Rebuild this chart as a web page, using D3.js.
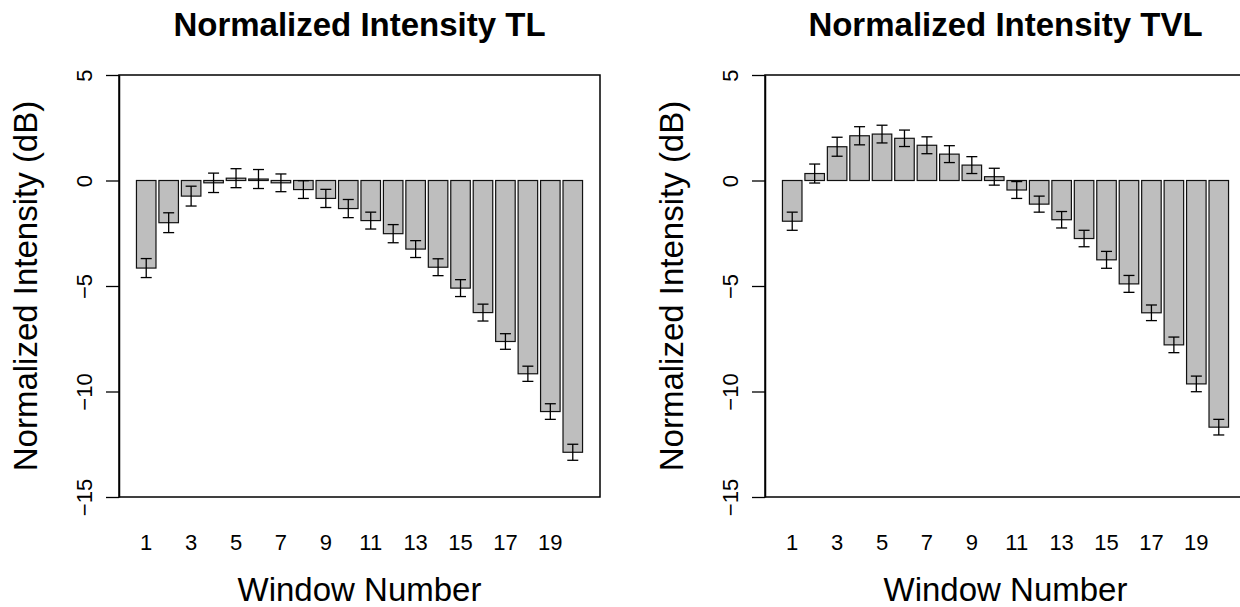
<!DOCTYPE html>
<html>
<head>
<meta charset="utf-8">
<script src="https://cdn.jsdelivr.net/npm/d3@7"></script>
<style>
  html, body { margin: 0; padding: 0; background: #ffffff; }
  svg { display: block; }
  text { font-family: "Liberation Sans", Arial, Helvetica, sans-serif; fill: #000; }
</style>
</head>
<body>
<svg id="chart" width="1240" height="607"></svg>
<script>
// Window numbers along the x axis
const windows = d3.range(1, 21);
// Tick labels shown under the bars (every other window)
const xTickLabels = [1, 3, 5, 7, 9, 11, 13, 15, 17, 19];
const yTicks = [-15, -10, -5, 0, 5];

// Mean normalized intensity (dB) per window, and its error (half-length of the bar)
const tlMean = [-4.15, -2.0, -0.74, -0.11, 0.11, 0.07, -0.11, -0.43, -0.85, -1.33,
                -1.9, -2.52, -3.25, -4.11, -5.1, -6.26, -7.63, -9.16, -10.95, -12.88];
const tlErr  = [0.45, 0.47, 0.47, 0.46, 0.45, 0.45, 0.42, 0.42, 0.43, 0.43,
                0.4, 0.43, 0.4, 0.4, 0.4, 0.4, 0.37, 0.36, 0.37, 0.38];

const tvlMean = [-1.93, 0.33, 1.6, 2.12, 2.2, 2.0, 1.67, 1.25, 0.73, 0.18,
                 -0.45, -1.12, -1.86, -2.75, -3.76, -4.9, -6.27, -7.79, -9.64, -11.69];
const tvlErr  = [0.43, 0.45, 0.45, 0.43, 0.42, 0.39, 0.4, 0.4, 0.4, 0.4,
                 0.4, 0.38, 0.39, 0.39, 0.4, 0.4, 0.37, 0.37, 0.37, 0.37];

const panels = [
  { title: "Normalized Intensity TL",  mean: tlMean,  err: tlErr,  left: 119 },
  { title: "Normalized Intensity TVL", mean: tvlMean, err: tvlErr, left: 765 }
];

const svg = d3.select("#chart");
const plotW = 481, plotTop = 75, plotBottom = 497;

const y = d3.scaleLinear().domain([-15, 5]).range([plotBottom, plotTop]);

panels.forEach(p => {
  const x0 = p.left, x1 = p.left + plotW;
  const x = d3.scaleBand()
    .domain(windows)
    .range([x0, x1])
    .paddingInner(0.13)
    .paddingOuter(0.7775);

  const g = svg.append("g");

  // bars hanging from zero
  g.selectAll("rect.bar")
    .data(windows)
    .join("rect")
    .attr("class", "bar")
    .attr("x", d => x(d))
    .attr("width", x.bandwidth())
    .attr("y", d => y(Math.max(0, p.mean[d - 1])))
    .attr("height", d => Math.abs(y(p.mean[d - 1]) - y(0)))
    .attr("fill", "#bebebe")
    .attr("stroke", "#111")
    .attr("stroke-width", 1.2);

  // error bars
  const capHalf = 5.5;
  const eb = g.selectAll("g.err")
    .data(windows)
    .join("g")
    .attr("class", "err")
    .attr("stroke", "#000")
    .attr("stroke-width", 1.3)
    .attr("fill", "none");
  eb.append("line")
    .attr("x1", d => x(d) + x.bandwidth() / 2)
    .attr("x2", d => x(d) + x.bandwidth() / 2)
    .attr("y1", d => y(p.mean[d - 1] + p.err[d - 1]))
    .attr("y2", d => y(p.mean[d - 1] - p.err[d - 1]));
  eb.append("line")
    .attr("x1", d => x(d) + x.bandwidth() / 2 - capHalf)
    .attr("x2", d => x(d) + x.bandwidth() / 2 + capHalf)
    .attr("y1", d => y(p.mean[d - 1] + p.err[d - 1]))
    .attr("y2", d => y(p.mean[d - 1] + p.err[d - 1]));
  eb.append("line")
    .attr("x1", d => x(d) + x.bandwidth() / 2 - capHalf)
    .attr("x2", d => x(d) + x.bandwidth() / 2 + capHalf)
    .attr("y1", d => y(p.mean[d - 1] - p.err[d - 1]))
    .attr("y2", d => y(p.mean[d - 1] - p.err[d - 1]));

  // plot box
  g.append("rect")
    .attr("x", x0).attr("y", plotTop)
    .attr("width", plotW).attr("height", plotBottom - plotTop)
    .attr("fill", "none")
    .attr("stroke", "#000")
    .attr("stroke-width", 1.5);

  // y axis with rotated labels
  const yAxis = g.append("g")
    .attr("transform", `translate(${x0},0)`)
    .call(d3.axisLeft(y).tickValues(yTicks).tickSize(13).tickSizeOuter(0)
      .tickFormat(d => String(d).replace("-", "\u2212")));
  yAxis.select(".domain").attr("stroke", "#000").attr("stroke-width", 1.5);
  yAxis.selectAll(".tick line").attr("stroke", "#000").attr("stroke-width", 1.3);
  yAxis.selectAll(".tick text")
    .attr("transform", "rotate(-90)")
    .attr("x", 0)
    .attr("y", -27)
    .attr("dy", null)
    .attr("text-anchor", "middle")
    .style("font-family", "'Liberation Sans', Arial, sans-serif")
    .style("font-size", "22px")
    .attr("fill", "#000");

  // x tick labels (no axis line)
  g.selectAll("text.xt")
    .data(xTickLabels)
    .join("text")
    .attr("class", "xt")
    .attr("x", d => x(d) + x.bandwidth() / 2)
    .attr("y", 550)
    .attr("text-anchor", "middle")
    .style("font-size", "22px")
    .text(d => d);

  // titles
  g.append("text")
    .attr("x", (x0 + x1) / 2)
    .attr("y", 36)
    .attr("text-anchor", "middle")
    .style("font-size", "33px")
    .style("font-weight", "bold")
    .text(p.title);

  g.append("text")
    .attr("x", (x0 + x1) / 2)
    .attr("y", 601)
    .attr("text-anchor", "middle")
    .style("font-size", "33px")
    .text("Window Number");

  g.append("text")
    .attr("transform", `translate(${x0 - 82},${(plotTop + plotBottom) / 2}) rotate(-90)`)
    .attr("text-anchor", "middle")
    .style("font-size", "33px")
    .text("Normalized Intensity (dB)");
});
</script>
</body>
</html>
